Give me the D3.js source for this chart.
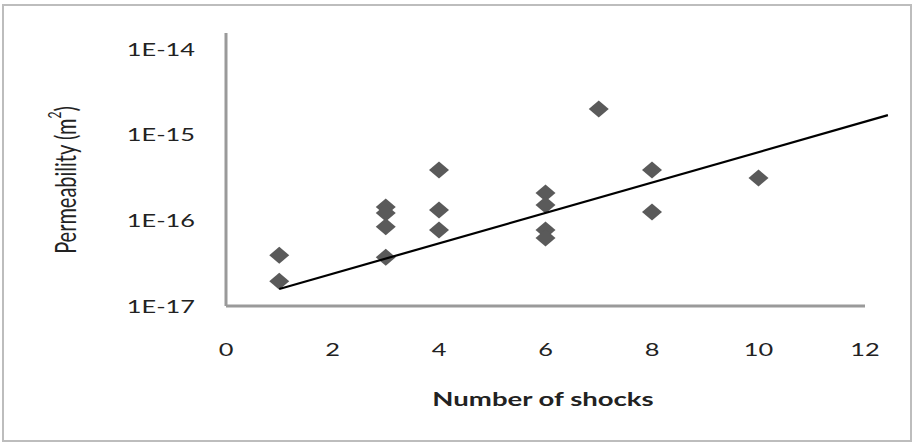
<!DOCTYPE html>
<html>
<head>
<meta charset="utf-8">
<script src="https://cdn.jsdelivr.net/npm/d3@7"></script>
<style>
  html, body { margin: 0; padding: 0; background: #fff; }
  svg { display: block; }
  text { font-family: Lato, "Open Sans", sans-serif; fill: #222; }
</style>
</head>
<body>
<svg id="chart"></svg>
<script>
// ---- data ----
const shocks = [1, 1, 3, 3, 3, 3, 4, 4, 4, 6, 6, 6, 6, 7, 8, 8, 10];
const permeability = [3.9e-17, 1.95e-17, 1.43e-16, 1.22e-16, 8.4e-17, 3.7e-17,
  3.86e-16, 1.32e-16, 7.7e-17, 2.08e-16, 1.51e-16, 7.7e-17, 6.2e-17,
  1.99e-15, 3.86e-16, 1.25e-16, 3.12e-16];
// exponential trendline end points
const trendX = [1, 12.43];
const trendY = [1.58e-17, 1.69e-15];
const xTicks = [0, 2, 4, 6, 8, 10, 12];
const yTicks = [1e-17, 1e-16, 1e-15, 1e-14];

const W = 913, H = 444;
const SX = 1.45; // source picture is stretched horizontally

const svg = d3.select('#chart').attr('width', W).attr('height', H);

// outer frame
svg.append('rect').attr('x', 3).attr('y', 5).attr('width', 908).attr('height', 436)
  .attr('fill', '#fff').attr('stroke', '#bdbdbd').attr('stroke-width', 2);

const x = d3.scaleLinear().domain([0, 12]).range([226, 865]);
const y = d3.scaleLog().domain([1e-17, 1e-14]).range([306, 49]);

// axis lines (no tick marks)
const axisCol = '#9a9a9a';
svg.append('line').attr('x1', x(0)).attr('x2', x(0))
  .attr('y1', y(1e-17)).attr('y2', y(1e-14) - 16)
  .attr('stroke', axisCol).attr('stroke-width', 3);
svg.append('line').attr('x1', x(0)).attr('x2', x(12))
  .attr('y1', y(1e-17)).attr('y2', y(1e-17))
  .attr('stroke', axisCol).attr('stroke-width', 3);

// y tick labels
svg.append('g').selectAll('text').data(yTicks).enter().append('text')
  .attr('transform', d => `translate(195,${y(d)}) scale(${SX},1)`)
  .attr('text-anchor', 'end').attr('dominant-baseline', 'central')
  .attr('font-size', '17.5px')
  .text(d => '1E' + Math.round(Math.log10(d)));

// x tick labels
svg.append('g').selectAll('text').data(xTicks).enter().append('text')
  .attr('transform', d => `translate(${x(d)},349) scale(${SX},1)`)
  .attr('text-anchor', 'middle').attr('dominant-baseline', 'central')
  .attr('font-size', '17.5px')
  .text(d => d);

// axis titles
svg.append('text')
  .attr('transform', `translate(543,399) scale(${SX},1)`)
  .attr('text-anchor', 'middle').attr('dominant-baseline', 'central')
  .attr('font-size', '19px').attr('font-weight', 'bold')
  .text('Number of shocks');

const yt = svg.append('text')
  .attr('transform', `translate(64,180) scale(${SX},1) rotate(-90)`)
  .attr('text-anchor', 'middle').attr('dominant-baseline', 'central')
  .attr('font-size', '20px');
yt.append('tspan').text('Permeability (m');
yt.append('tspan').attr('font-size', '12px').attr('dy', -7).text('2');
yt.append('tspan').attr('dy', 7).text(')');

// markers
const diamond = 'M0,-8.5L10,0L0,8.5L-10,0Z';
svg.append('g').selectAll('path').data(shocks).enter().append('path')
  .attr('d', diamond)
  .attr('transform', (d, i) => `translate(${x(d)},${y(permeability[i])})`)
  .attr('fill', '#5a5a5a');

// trendline
const line = d3.line().x(d => x(d[0])).y(d => y(d[1]));
svg.append('path').datum(d3.zip(trendX, trendY))
  .attr('d', line).attr('fill', 'none')
  .attr('stroke', '#000').attr('stroke-width', 2.2);
</script>
</body>
</html>
